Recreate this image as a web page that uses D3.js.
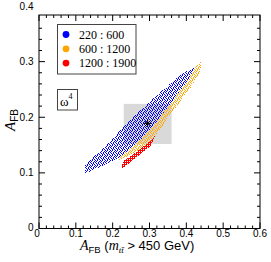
<!DOCTYPE html>
<html>
<head>
<meta charset="utf-8">
<script src="https://cdn.jsdelivr.net/npm/d3@7"></script>
<style>
  html, body { margin: 0; padding: 0; background: #fff; }
  svg { display: block; }
  text { font-family: "Liberation Sans", Arial, sans-serif; fill: #000; }
  .serif { font-family: "Liberation Serif", "Times New Roman", serif; }
</style>
</head>
<body>
<svg id="chart" width="271" height="262"></svg>
<script>
// ── Data (region outlines) ───────────────────────────────────────────────────

const blueX   = [0.419, 0.383, 0.347, 0.311, 0.275, 0.238, 0.202, 0.166, 0.133, 0.125,
                 0.125, 0.166, 0.202, 0.220, 0.247, 0.275, 0.313, 0.347, 0.374, 0.401, 0.424];
const blueY   = [0.289, 0.276, 0.255, 0.234, 0.212, 0.188, 0.163, 0.139, 0.120, 0.112,
                 0.098, 0.111, 0.123, 0.128, 0.143, 0.159, 0.187, 0.216, 0.240, 0.264, 0.285];

const orangeX = [0.441, 0.427, 0.401, 0.374, 0.347, 0.313, 0.275, 0.247, 0.220, 0.217,
                 0.256, 0.293, 0.315, 0.337, 0.356, 0.383, 0.410, 0.438];
const orangeY = [0.300, 0.292, 0.264, 0.240, 0.216, 0.187, 0.159, 0.143, 0.129, 0.123,
                 0.135, 0.150, 0.166, 0.186, 0.204, 0.228, 0.252, 0.282];

const redX    = [0.224, 0.229, 0.261, 0.302, 0.315, 0.312, 0.302, 0.261, 0.225];
const redY    = [0.110, 0.121, 0.136, 0.157, 0.167, 0.161, 0.148, 0.126, 0.107];

const seriesNames  = ['220 : 600', '600 : 1200', '1200 : 1900'];
const seriesColors = ['#0000ff', '#ffa500', '#ff0000'];

const boxX  = [0.23, 0.36];      // grey band
const boxY  = [0.152, 0.224];
const starX = 0.295, starY = 0.189;

const xTicks = [0, 0.1, 0.2, 0.3, 0.4, 0.5, 0.6];
const yTicks = [0, 0.1, 0.2, 0.3, 0.4];

// ── Scales ────────────────────────────────────────────────────────────────────

const svg = d3.select('#chart');
const x = d3.scaleLinear([0, 0.6], [39, 260]);
const y = d3.scaleLinear([0, 0.4], [228.5, 6]);
const frameTop = 15;   // the plot is clipped a little below 0.4

// ── Speckle patterns for the scan regions ─────────────────────────────────────

const speckle = [
  '#.#..',
  '.#..#',
  '#..#.',
  '.#.#.',
  '..#.#',
];
const speckleDense = [
  '##',
  '#.',
];

const defs = svg.append('defs');
function dotPattern(id, color, grid) {
  const n = grid.length;
  const p = defs.append('pattern')
    .attr('id', id).attr('patternUnits', 'userSpaceOnUse')
    .attr('width', n).attr('height', n);
  grid.forEach((row, r) => [...row].forEach((c, k) => {
    if (c === '#') p.append('rect').attr('x', k).attr('y', r)
      .attr('width', 1).attr('height', 1).attr('fill', color);
  }));
}
dotPattern('pBlue',   seriesColors[0], speckle);
dotPattern('pOrange', seriesColors[1], speckle);
dotPattern('pRed',    seriesColors[2], speckleDense);

// ── Grey band ─────────────────────────────────────────────────────────────────

svg.append('rect')
  .attr('x', x(boxX[0])).attr('y', y(boxY[1]))
  .attr('width', x(boxX[1]) - x(boxX[0]))
  .attr('height', y(boxY[0]) - y(boxY[1]))
  .attr('fill', '#d9d9d9');

// ── Regions ───────────────────────────────────────────────────────────────────

const area = d3.line().x(d => x(d[0])).y(d => y(d[1])).curve(d3.curveLinearClosed);
const regions = [
  { xs: blueX,   ys: blueY,   fill: 'url(#pBlue)' },
  { xs: orangeX, ys: orangeY, fill: 'url(#pOrange)' },
  { xs: redX,    ys: redY,    fill: 'url(#pRed)' },
];
svg.append('g').attr('shape-rendering', 'crispEdges')
  .selectAll('path').data(regions).join('path')
  .attr('d', r => area(r.xs.map((v, i) => [v, r.ys[i]])))
  .attr('fill', r => r.fill);

// star: best fit point
const sx = x(starX), sy = y(starY);
svg.append('path')
  .attr('d', `M${sx - 4},${sy}H${sx + 4}M${sx},${sy - 4}V${sy + 4}` +
             `M${sx - 2.5},${sy - 2.5}L${sx + 2.5},${sy + 2.5}M${sx - 2.5},${sy + 2.5}L${sx + 2.5},${sy - 2.5}`)
  .attr('stroke', '#000').attr('stroke-width', 1);

// ── Frame and ticks ───────────────────────────────────────────────────────────

const X0 = x(0), X1 = x(0.6), Y0 = y(0), Y1 = frameTop;
const ticks = svg.append('g').attr('stroke', '#000').attr('stroke-width', 1);

const xMinor = d3.range(0, 0.6001, 0.02);
const yMinor = d3.range(0, 0.38, 0.02);
const isMajor = v => Math.abs(v * 10 - Math.round(v * 10)) < 1e-6;

xMinor.forEach(v => {
  const len = isMajor(v) ? 6 : 3;
  ticks.append('line').attr('x1', x(v)).attr('x2', x(v)).attr('y1', Y0).attr('y2', Y0 - len);
  ticks.append('line').attr('x1', x(v)).attr('x2', x(v)).attr('y1', Y1).attr('y2', Y1 + len);
});
yMinor.forEach(v => {
  const len = isMajor(v) ? 6 : 3;
  ticks.append('line').attr('y1', y(v)).attr('y2', y(v)).attr('x1', X0).attr('x2', X0 + len);
  ticks.append('line').attr('y1', y(v)).attr('y2', y(v)).attr('x1', X1).attr('x2', X1 - len);
});

svg.append('rect')
  .attr('x', X0).attr('y', Y1).attr('width', X1 - X0).attr('height', Y0 - Y1)
  .attr('fill', 'none').attr('stroke', '#000').attr('stroke-width', 1);

svg.append('g').selectAll('text').data(xTicks).join('text')
  .attr('x', d => x(d) - (d === 0 ? 2 : 0)).attr('y', 236.5)
  .attr('text-anchor', 'middle').attr('font-size', 10)
  .text(d => d === 0 ? '0' : d3.format('.1f')(d));

svg.append('g').selectAll('text').data(yTicks).join('text')
  .attr('x', 33.5).attr('y', d => y(d) + (d === 0 ? 2 : 3.6))
  .attr('text-anchor', 'end').attr('font-size', 10)
  .text(d => d === 0 ? '0' : d3.format('.1f')(d));

// ── Axis titles ───────────────────────────────────────────────────────────────

const xt = svg.append('text').attr('x', 80).attr('y', 249.5).attr('font-size', 13);
xt.append('tspan').attr('class', 'serif').attr('font-style', 'italic').attr('font-size', 14).text('A');
xt.append('tspan').attr('font-size', 9.5).attr('dy', 3).text('FB');
xt.append('tspan').attr('dy', -3).text(' (');
xt.append('tspan').attr('class', 'serif').attr('font-style', 'italic').attr('font-size', 14).text('m');
xt.append('tspan').attr('class', 'serif').attr('font-style', 'italic').attr('font-size', 9)
  .attr('dy', 3).text('tt\u0304');
xt.append('tspan').attr('dy', -3).text(' > 450 GeV)');

const yt = svg.append('text').attr('transform', 'translate(15,131) rotate(-90)').attr('font-size', 14);
yt.append('tspan').attr('class', 'serif').attr('font-style', 'italic').attr('font-size', 15).text('A');
yt.append('tspan').attr('font-size', 10).attr('dy', 2.5).text('FB');

// ── Legend ────────────────────────────────────────────────────────────────────

svg.append('rect')
  .attr('x', 57.5).attr('y', 24.5).attr('width', 78.5).attr('height', 49.5)
  .attr('fill', '#fff').attr('stroke', '#444').attr('stroke-width', 1);

const legend = svg.append('g').selectAll('g').data(seriesNames).join('g')
  .attr('transform', (d, i) => `translate(66,${34.5 + i * 14.3})`);
legend.append('circle').attr('r', 3.4).attr('fill', (d, i) => seriesColors[i]);
legend.append('text').attr('class', 'serif')
  .attr('x', 13).attr('y', 4).attr('font-size', 12).text(d => d);

// ── ω^4 tag ───────────────────────────────────────────────────────────────────

svg.append('rect')
  .attr('x', 57.5).attr('y', 89.5).attr('width', 20).attr('height', 20.5)
  .attr('fill', '#fff').attr('stroke', '#444').attr('stroke-width', 1);
const tag = svg.append('text').attr('class', 'serif').attr('x', 60).attr('y', 105.5).attr('font-size', 13);
tag.append('tspan').text('\u03c9');
tag.append('tspan').attr('font-size', 8).attr('dy', -7).text('4');
</script>
</body>
</html>
